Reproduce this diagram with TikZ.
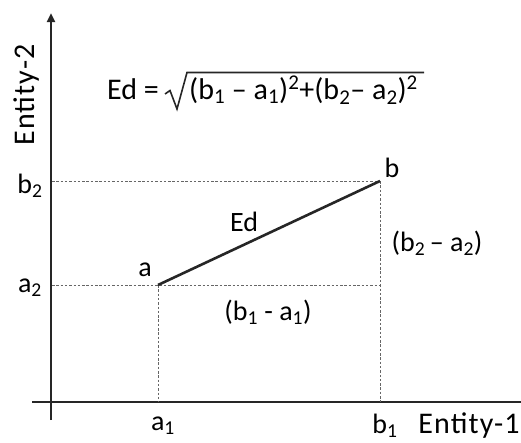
\documentclass[tikz,border=0pt]{standalone}
\usepackage{fontspec}
\setmainfont{Carlito}
\usetikzlibrary{arrows.meta}
\tikzset{
  lbl/.style={font=\fontsize{28}{32}\selectfont, inner sep=0pt},
  big/.style={font=\fontsize{30}{34}\selectfont, inner sep=0pt},
  ent/.style={font=\fontsize{30}{34}\selectfont\addfontfeature{LetterSpace=4}, inner sep=0pt},
  guide/.style={draw=black!60, line width=0.9pt, dash pattern=on 2.5pt off 1.8pt},
  axis/.style={draw=black!85, line width=2.4pt},
  edline/.style={draw=black!85, line width=2.6pt},
  radical/.style={draw=black!85, line width=1.6pt, line join=miter}
}
\begin{document}
\begin{tikzpicture}[x=1pt,y=-1pt]
\useasboundingbox (0,0) rectangle (521,442);
% axes
\coordinate (o) at (51,402);
\coordinate (ytop) at (51,13);
\coordinate (ybot) at (51,420);
\coordinate (xl) at (32,402);
\coordinate (xr) at (521,402);
\draw[axis,-{Triangle[length=9pt,width=8pt]}] (ybot) -- (ytop);
\draw[axis] (xl) -- (xr);
% points
\coordinate (a) at (158,285);
\coordinate (b) at (380,181);
\coordinate (a1x) at (158,402);
\coordinate (b1x) at (380,402);
\coordinate (a2y) at (52,285);
\coordinate (b2y) at (52,181);
\coordinate (ba) at (380,285);
% guides
\draw[guide] (b2y) -- (b);
\draw[guide] (a2y) -- (ba);
\draw[guide] (a) -- (a1x);
\draw[guide] (b) -- (b1x);
% Ed line
\draw[edline] (a) -- (b);
% formula
\node[big, anchor=base west] (fl) at (107,99) {Ed =};
\node[big, anchor=base west] (fr) at (189,99) {(b\textsubscript{1} – a\textsubscript{1})\textsuperscript{2}+(b\textsubscript{2}– a\textsubscript{2})\textsuperscript{2}};
\coordinate (r1) at (165,94);
\coordinate (r2) at (170,90.5);
\coordinate (r3) at (177,109);
\coordinate (r4) at (187,72.5);
\coordinate (r5) at (424,72.5);
\draw[radical] (r1) -- (r2) -- (r3) -- (r4) -- (r5);
% labels
\node[ent, rotate=90] (e2) at (27,95) {Entity-2};
\node[lbl] (lb2) at (30,186) {b\textsubscript{2}};
\node[lbl] (la2) at (30,288) {a\textsubscript{2}};
\node[lbl] (la) at (145,270) {a};
\node[lbl] (lb) at (392,168) {b};
\node[lbl] (led) at (244,222) {Ed};
\node[lbl] (ldy) at (437,243) {(b\textsubscript{2}\,– a\textsubscript{2})};
\node[lbl] (ldx) at (268,312) {(b\textsubscript{1} - a\textsubscript{1})};
\node[lbl] (la1) at (163,426) {a\textsubscript{1}};
\node[lbl] (lb1) at (385,426) {b\textsubscript{1}};
\node[ent] (le1) at (469,426) {Entity-1};
\end{tikzpicture}
\end{document}
